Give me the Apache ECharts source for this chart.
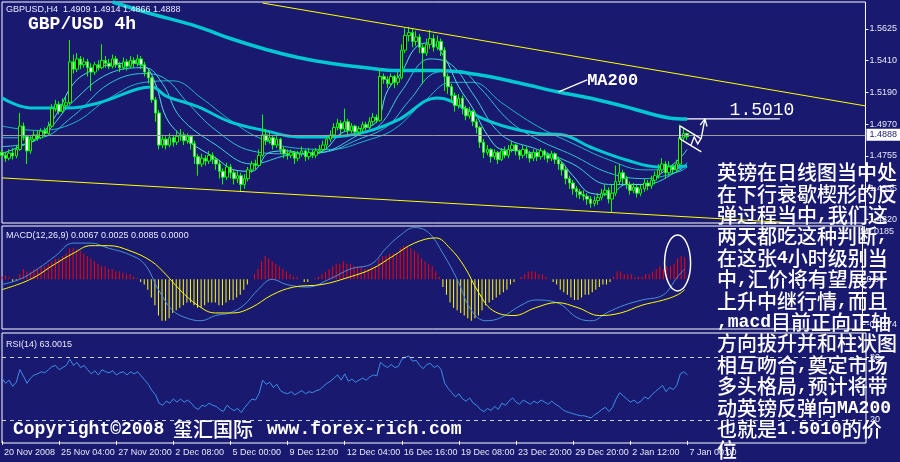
<!DOCTYPE html>
<html><head><meta charset="utf-8">
<script src="https://cdn.jsdelivr.net/npm/echarts@6/dist/echarts.min.js"></script>
<style>html,body{margin:0;padding:0;background:#191970;}#c{width:900px;height:462px;}</style>
</head><body><div id="c"></div>
<script>
// ---------- DATA ----------
const dateLabels = ['20 Nov 2008','25 Nov 04:00','27 Nov 20:00','2 Dec 08:00','5 Dec 00:00','9 Dec 12:00','12 Dec 04:00','16 Dec 16:00','19 Dec 08:00','23 Dec 20:00','29 Dec 20:00','2 Jan 12:00','7 Jan 00:00'];
const barsPerLabel = 16;
const slotCount = 243; // bars + right chart shift
// [open, close, low, high]
const candles = [
[1.4780,1.4760,1.4735,1.4800],[1.4760,1.4740,1.4715,1.4785],[1.4740,1.4775,1.4725,1.4800],[1.4775,1.4755,1.4730,1.4810],[1.4755,1.4800,1.4740,1.4830],
[1.4800,1.4960,1.4790,1.5050],[1.4960,1.4890,1.4860,1.4985],[1.4890,1.4790,1.4700,1.4900],[1.4790,1.4870,1.4770,1.4890],[1.4870,1.4900,1.4850,1.4925],
[1.4900,1.4880,1.4860,1.4930],[1.4880,1.4925,1.4870,1.4945],[1.4925,1.4910,1.4890,1.4950],[1.4910,1.4960,1.4900,1.4990],[1.4960,1.5080,1.4950,1.5110],
[1.5080,1.5110,1.5060,1.5140],[1.5110,1.5060,1.5040,1.5130],[1.5060,1.5100,1.5050,1.5150],[1.5100,1.5120,1.5080,1.5160],[1.5120,1.5400,1.5110,1.5550],
[1.5400,1.5350,1.5320,1.5450],[1.5350,1.5420,1.5330,1.5460],[1.5420,1.5380,1.5350,1.5440],[1.5380,1.5400,1.5360,1.5430],[1.5400,1.5360,1.5300,1.5420],
[1.5360,1.5330,1.5200,1.5390],[1.5330,1.5380,1.5310,1.5400],[1.5380,1.5360,1.5340,1.5410],[1.5360,1.5410,1.5350,1.5520],[1.5410,1.5390,1.5360,1.5440],
[1.5390,1.5370,1.5350,1.5420],[1.5370,1.5420,1.5355,1.5450],[1.5420,1.5380,1.5360,1.5440],[1.5380,1.5360,1.5330,1.5400],[1.5360,1.5400,1.5345,1.5430],
[1.5400,1.5370,1.5340,1.5420],[1.5370,1.5410,1.5355,1.5440],[1.5410,1.5390,1.5360,1.5430],[1.5390,1.5420,1.5370,1.5450],[1.5420,1.5380,1.5350,1.5440],
[1.5380,1.5330,1.5300,1.5400],[1.5330,1.5290,1.5250,1.5350],[1.5290,1.5140,1.5120,1.5300],[1.5140,1.5050,1.4990,1.5160],[1.5050,1.4830,1.4800,1.5070],
[1.4830,1.4870,1.4810,1.4900],[1.4870,1.4830,1.4800,1.4890],[1.4830,1.4880,1.4815,1.4910],[1.4880,1.4850,1.4820,1.4900],[1.4850,1.4890,1.4830,1.4930],
[1.4890,1.4900,1.4860,1.4940],[1.4900,1.4860,1.4830,1.4920],[1.4860,1.4890,1.4840,1.4910],[1.4890,1.4840,1.4800,1.4900],[1.4840,1.4750,1.4700,1.4860],
[1.4750,1.4700,1.4620,1.4770],[1.4700,1.4740,1.4680,1.4770],[1.4740,1.4720,1.4690,1.4760],[1.4720,1.4760,1.4700,1.4790],[1.4760,1.4730,1.4700,1.4780],
[1.4730,1.4700,1.4660,1.4750],[1.4700,1.4650,1.4600,1.4720],[1.4650,1.4610,1.4560,1.4670],[1.4610,1.4680,1.4590,1.4710],[1.4680,1.4640,1.4600,1.4700],
[1.4640,1.4600,1.4560,1.4660],[1.4600,1.4620,1.4570,1.4650],[1.4620,1.4560,1.4510,1.4640],[1.4560,1.4600,1.4530,1.4630],[1.4600,1.4660,1.4580,1.4680],
[1.4660,1.4700,1.4640,1.4720],[1.4700,1.4690,1.4660,1.4730],[1.4690,1.4760,1.4680,1.4800],[1.4760,1.4900,1.4750,1.5040],[1.4900,1.4860,1.4830,1.4940],
[1.4860,1.4880,1.4840,1.4920],[1.4880,1.4830,1.4800,1.4900],[1.4830,1.4870,1.4810,1.4890],[1.4870,1.4800,1.4770,1.4880],[1.4800,1.4770,1.4740,1.4820],
[1.4770,1.4760,1.4730,1.4800],[1.4760,1.4780,1.4740,1.4800],[1.4780,1.4740,1.4700,1.4790],[1.4740,1.4770,1.4720,1.4790],[1.4770,1.4790,1.4750,1.4820],
[1.4790,1.4750,1.4720,1.4800],[1.4750,1.4780,1.4730,1.4810],[1.4780,1.4760,1.4740,1.4800],[1.4760,1.4790,1.4740,1.4810],[1.4790,1.4800,1.4770,1.4830],
[1.4800,1.4830,1.4780,1.4860],[1.4830,1.4870,1.4810,1.4900],[1.4870,1.4900,1.4850,1.4930],[1.4900,1.4950,1.4880,1.4980],[1.4950,1.4980,1.4930,1.5010],
[1.4980,1.4940,1.4900,1.5000],[1.4940,1.4990,1.4920,1.5080],[1.4990,1.4930,1.4900,1.5010],[1.4930,1.4960,1.4910,1.4980],[1.4960,1.4920,1.4900,1.4970],
[1.4920,1.4940,1.4900,1.4960],[1.4940,1.4970,1.4920,1.4990],[1.4970,1.4950,1.4930,1.4990],[1.4950,1.4990,1.4940,1.5020],[1.4990,1.5020,1.4970,1.5050],
[1.5020,1.5000,1.4980,1.5040],[1.5000,1.5300,1.4990,1.5350],[1.5300,1.5280,1.5250,1.5320],[1.5280,1.5250,1.5220,1.5300],[1.5250,1.5300,1.5230,1.5320],
[1.5300,1.5260,1.5220,1.5310],[1.5260,1.5290,1.5240,1.5330],[1.5290,1.5480,1.5280,1.5520],[1.5480,1.5580,1.5460,1.5630],[1.5580,1.5600,1.5540,1.5640],
[1.5600,1.5540,1.5500,1.5630],[1.5540,1.5570,1.5510,1.5610],[1.5570,1.5500,1.5460,1.5590],[1.5500,1.5460,1.5250,1.5520],[1.5460,1.5520,1.5440,1.5560],
[1.5520,1.5560,1.5490,1.5620],[1.5560,1.5500,1.5470,1.5590],[1.5500,1.5540,1.5480,1.5580],[1.5540,1.5480,1.5440,1.5560],[1.5480,1.5300,1.5200,1.5500],
[1.5300,1.5230,1.5180,1.5320],[1.5230,1.5170,1.5120,1.5250],[1.5170,1.5100,1.5060,1.5190],[1.5100,1.5150,1.5080,1.5180],[1.5150,1.5080,1.5040,1.5170],
[1.5080,1.5030,1.5000,1.5100],[1.5030,1.5060,1.5010,1.5090],[1.5060,1.4990,1.4960,1.5070],[1.4990,1.4950,1.4910,1.5010],[1.4950,1.4850,1.4810,1.4960],
[1.4850,1.4780,1.4740,1.4870],[1.4780,1.4800,1.4760,1.4830],[1.4800,1.4750,1.4710,1.4810],[1.4750,1.4780,1.4730,1.4800],[1.4780,1.4730,1.4700,1.4790],
[1.4730,1.4790,1.4720,1.4810],[1.4790,1.4760,1.4740,1.4820],[1.4760,1.4800,1.4740,1.4830],[1.4800,1.4830,1.4780,1.4860],[1.4830,1.4790,1.4760,1.4840],
[1.4790,1.4760,1.4730,1.4800],[1.4760,1.4800,1.4740,1.4830],[1.4800,1.4770,1.4740,1.4820],[1.4770,1.4740,1.4710,1.4790],[1.4740,1.4780,1.4720,1.4800],
[1.4780,1.4750,1.4720,1.4800],[1.4750,1.4790,1.4730,1.4810],[1.4790,1.4760,1.4730,1.4800],[1.4760,1.4740,1.4710,1.4780],[1.4740,1.4770,1.4720,1.4790],
[1.4770,1.4730,1.4700,1.4780],[1.4730,1.4700,1.4660,1.4750],[1.4700,1.4660,1.4620,1.4720],[1.4660,1.4600,1.4560,1.4680],[1.4600,1.4570,1.4530,1.4620],
[1.4570,1.4530,1.4490,1.4590],[1.4530,1.4510,1.4470,1.4550],[1.4510,1.4490,1.4460,1.4530],[1.4490,1.4480,1.4450,1.4520],[1.4480,1.4460,1.4420,1.4500],
[1.4460,1.4430,1.4400,1.4480],[1.4430,1.4450,1.4410,1.4480],[1.4450,1.4470,1.4420,1.4500],[1.4470,1.4500,1.4450,1.4530],[1.4500,1.4520,1.4480,1.4560],
[1.4520,1.4460,1.4430,1.4540],[1.4460,1.4500,1.4370,1.4560],[1.4500,1.4580,1.4480,1.4690],[1.4580,1.4640,1.4560,1.4700],[1.4640,1.4600,1.4560,1.4660],
[1.4600,1.4560,1.4530,1.4620],[1.4560,1.4520,1.4490,1.4580],[1.4520,1.4540,1.4500,1.4570],[1.4540,1.4500,1.4470,1.4560],[1.4500,1.4530,1.4480,1.4560],
[1.4530,1.4570,1.4510,1.4600],[1.4570,1.4550,1.4520,1.4590],[1.4550,1.4590,1.4530,1.4620],[1.4590,1.4620,1.4560,1.4650],[1.4620,1.4660,1.4600,1.4700],
[1.4660,1.4700,1.4640,1.4740],[1.4700,1.4640,1.4600,1.4720],[1.4640,1.4680,1.4620,1.4720],[1.4680,1.4660,1.4630,1.4700],[1.4660,1.4700,1.4640,1.4730],
[1.4700,1.4880,1.4690,1.4970],[1.4880,1.4909,1.4860,1.4950],[1.4909,1.4888,1.4866,1.4914]
];
const lastPrice = 1.4888;
// moving averages, read at sample bars: [bar index, price]
const ma200 = [[31,1.5810],[41,1.5735],[55,1.5640],[64,1.5560],[74,1.5485],[83,1.5430],[92,1.5390],[102,1.5360],[111,1.5340],[122,1.5340],[134,1.5310],[145,1.5255],[156,1.5193],[165,1.5151],[175,1.5091],[187,1.5016],[192,1.5009]];
const maSlow = [[0,1.5153],[8,1.5084],[18,1.5084],[27,1.5118],[38,1.5214],[42,1.5228],[46,1.5166],[55,1.5091],[64,1.4988],[74,1.4927],[83,1.4886],[92,1.4886],[102,1.4920],[111,1.5002],[122,1.5153],[126,1.5130],[134,1.5020],[142,1.4950],[150,1.4910],[157,1.4900],[165,1.4815],[175,1.4728],[184,1.4680],[192,1.4687]];
const ribbon1 = [[0,1.4770],[5,1.4820],[10,1.4880],[15,1.5030],[20,1.5250],[25,1.5340],[30,1.5380],[35,1.5390],[40,1.5370],[43,1.5250],[46,1.5020],[50,1.4900],[55,1.4810],[60,1.4740],[65,1.4660],[70,1.4650],[75,1.4780],[80,1.4790],[85,1.4770],[90,1.4790],[95,1.4910],[100,1.4940],[105,1.4990],[108,1.5200],[112,1.5330],[116,1.5500],[120,1.5530],[124,1.5430],[128,1.5230],[132,1.5080],[136,1.4900],[140,1.4800],[145,1.4790],[150,1.4770],[155,1.4750],[160,1.4620],[165,1.4500],[170,1.4490],[175,1.4560],[180,1.4560],[185,1.4640],[190,1.4740],[192,1.4800]];
const ribbon2 = [[0,1.4820],[10,1.4870],[20,1.5130],[30,1.5320],[40,1.5360],[45,1.5250],[50,1.5020],[60,1.4830],[70,1.4700],[80,1.4760],[90,1.4780],[100,1.4900],[106,1.4970],[112,1.5200],[120,1.5420],[126,1.5380],[132,1.5180],[140,1.4900],[150,1.4800],[160,1.4700],[170,1.4560],[180,1.4560],[190,1.4660],[192,1.4710]];
const ribbon3 = [[0,1.4880],[10,1.4880],[20,1.5030],[30,1.5250],[40,1.5320],[46,1.5280],[52,1.5120],[60,1.4930],[70,1.4790],[80,1.4770],[90,1.4780],[100,1.4870],[108,1.4960],[114,1.5130],[122,1.5330],[128,1.5340],[134,1.5220],[142,1.5000],[150,1.4870],[160,1.4760],[170,1.4640],[180,1.4600],[190,1.4650],[192,1.4680]];
const ribbon4 = [[0,1.4960],[10,1.4930],[20,1.4980],[30,1.5150],[40,1.5260],[48,1.5270],[56,1.5150],[64,1.5000],[72,1.4880],[82,1.4810],[92,1.4800],[102,1.4860],[110,1.4940],[118,1.5120],[126,1.5260],[132,1.5260],[140,1.5120],[150,1.4960],[160,1.4840],[170,1.4730],[180,1.4660],[190,1.4670],[192,1.4690]];
const macdHist = [
0.0010,0.0015,0.0010,-0.0010,-0.0005,0.0020,0.0040,0.0030,0.0030,0.0040,
0.0040,0.0050,0.0050,0.0060,0.0070,0.0080,0.0080,0.0090,0.0100,0.0120,
0.0120,0.0115,0.0110,0.0100,0.0090,0.0080,0.0070,0.0060,0.0050,0.0050,
0.0040,0.0040,0.0030,0.0030,0.0025,0.0020,0.0020,0.0010,0.0005,-0.0010,
-0.0020,-0.0040,-0.0070,-0.0100,-0.0140,-0.0160,-0.0160,-0.0150,-0.0130,-0.0120,
-0.0110,-0.0100,-0.0090,-0.0090,-0.0100,-0.0110,-0.0110,-0.0100,-0.0090,-0.0090,
-0.0090,-0.0100,-0.0100,-0.0090,-0.0080,-0.0080,-0.0070,-0.0060,-0.0040,-0.0020,
0.0000,0.0020,0.0040,0.0070,0.0090,0.0080,0.0070,0.0060,0.0050,0.0040,
0.0030,0.0020,0.0010,0.0010,0.0000,-0.0010,-0.0010,0.0000,0.0005,0.0010,
0.0020,0.0030,0.0040,0.0050,0.0060,0.0060,0.0070,0.0060,0.0060,0.0050,
0.0050,0.0050,0.0040,0.0040,0.0050,0.0050,0.0080,0.0090,0.0090,0.0100,
0.0100,0.0100,0.0120,0.0130,0.0130,0.0120,0.0110,0.0100,0.0080,0.0070,
0.0060,0.0050,0.0030,0.0010,-0.0030,-0.0060,-0.0090,-0.0110,-0.0120,-0.0130,
-0.0140,-0.0150,-0.0160,-0.0150,-0.0140,-0.0120,-0.0100,-0.0090,-0.0080,-0.0070,
-0.0060,-0.0050,-0.0040,-0.0020,-0.0010,0.0000,0.0010,0.0020,0.0030,0.0030,
0.0030,0.0020,0.0020,0.0010,0.0000,-0.0010,-0.0020,-0.0040,-0.0050,-0.0060,
-0.0070,-0.0080,-0.0080,-0.0070,-0.0060,-0.0060,-0.0050,-0.0040,-0.0030,-0.0020,
-0.0020,-0.0010,0.0010,0.0030,0.0030,0.0020,0.0020,0.0020,0.0010,0.0010,
0.0010,0.0020,0.0020,0.0030,0.0040,0.0050,0.0040,0.0050,0.0050,0.0060,
0.0080,0.0090,0.0085];
const macdMain = [[0,-0.002],[5,0.000],[10,0.004],[15,0.009],[20,0.014],[25,0.014],[30,0.012],[35,0.010],[40,0.006],[44,-0.004],[48,-0.012],[52,-0.015],[56,-0.016],[60,-0.014],[64,-0.013],[68,-0.010],[72,-0.004],[76,0.000],[80,-0.002],[86,-0.003],[92,0.000],[98,0.004],[104,0.006],[108,0.012],[112,0.017],[116,0.020],[120,0.018],[124,0.010],[128,0.000],[132,-0.012],[136,-0.016],[140,-0.015],[146,-0.010],[150,-0.008],[156,-0.009],[162,-0.015],[166,-0.016],[170,-0.013],[175,-0.010],[180,-0.008],[186,-0.006],[190,0.001],[192,0.004]];
const macdSignal = [[0,-0.004],[8,0.000],[15,0.006],[20,0.010],[25,0.013],[30,0.013],[36,0.011],[42,0.007],[46,0.002],[50,-0.004],[55,-0.010],[60,-0.013],[65,-0.013],[70,-0.011],[76,-0.006],[82,-0.003],[90,-0.002],[98,0.001],[104,0.004],[110,0.009],[116,0.014],[122,0.016],[126,0.012],[130,0.005],[134,-0.005],[138,-0.012],[144,-0.014],[150,-0.011],[156,-0.009],[162,-0.011],[168,-0.014],[174,-0.013],[180,-0.010],[186,-0.008],[190,-0.006],[192,-0.004]];
const rsi = [
60,55,58,52,56,68,62,55,60,63,
64,66,65,68,71,72,68,70,72,78,
72,75,70,72,68,64,67,63,68,66,
65,67,63,65,66,63,66,64,66,62,
58,54,48,44,36,34,38,36,40,37,
40,37,39,36,32,30,34,33,36,34,
33,30,28,34,31,29,31,27,32,36,
40,39,45,58,54,56,51,54,48,46,
45,47,44,46,48,45,47,46,48,49,
52,55,57,60,63,58,64,57,59,56,
58,60,58,61,63,62,75,72,70,73,
70,71,78,80,81,76,77,72,69,73,
74,70,72,68,55,50,46,42,45,40,
38,41,36,34,30,28,31,29,33,30,
36,34,38,41,37,35,39,37,35,38,
36,39,37,35,38,35,33,30,28,27,
26,25,24,24,23,22,25,27,30,32,
28,32,40,46,43,40,37,39,36,38,
42,40,44,47,50,53,47,51,49,53,
64,66,63];
const priceTicks = [1.5625,1.5410,1.5190,1.4970,1.4755,1.4535,1.4320];
const macdTicks = [0.0185,0,-0.0174];
const rsiLevels = [80,20];
const trendTop = [[73,1.5803],[242,1.5098]];
const trendBottom = [[0,1.4605],[221,1.4298]];
const targetPrice = 1.5010;

// ---------- CHART ----------
const BG = '#191970';
const cats = [];
for (let i = 0; i < slotCount; i++) cats.push(String(i));
const isLabel = (idx) => idx % barsPerLabel === 0 && idx / barsPerLabel < dateLabels.length;
const smallFont = '"Liberation Sans", Arial, sans-serif';
const mono = '"Liberation Mono", "DejaVu Sans Mono", monospace';

const chart = echarts.init(document.getElementById('c'), null, {renderer: 'canvas'});
const xBase = {type: 'category', data: cats, boundaryGap: false, axisLine: {show: false}, axisTick: {show: false}, axisLabel: {show: false}, splitLine: {show: false}};
const yBase = {type: 'value', position: 'right', scale: true, splitLine: {show: false}, axisLine: {show: false},
  axisTick: {show: true, inside: false, length: 3, lineStyle: {color: '#fff'}},
  axisLabel: {color: '#e6e6f5', fontSize: 9, fontFamily: smallFont, margin: 4, align: 'left'}};

const option = {
  backgroundColor: BG,
  animation: false,
  grid: [
    {left: 2, top: 2, width: 864, height: 221, show: true, borderColor: '#fff', borderWidth: 1, backgroundColor: BG},
    {left: 2, top: 226, width: 864, height: 103, show: true, borderColor: '#fff', borderWidth: 1, backgroundColor: BG},
    {left: 2, top: 333, width: 864, height: 110, show: true, borderColor: '#fff', borderWidth: 1, backgroundColor: BG}
  ],
  xAxis: [
    Object.assign({}, xBase, {gridIndex: 0}),
    Object.assign({}, xBase, {gridIndex: 1}),
    Object.assign({}, xBase, {gridIndex: 2, axisTick: {show: true, length: 4, interval: (i) => isLabel(i), lineStyle: {color: '#fff'}},
      axisLabel: {show: true, interval: (i) => isLabel(i), formatter: (v, i) => isLabel(i) ? dateLabels[i / barsPerLabel] : '',
        color: '#e6e6f5', fontSize: 9, fontFamily: smallFont, align: 'left', margin: 5, padding: [0, 0, 0, 2]}})
  ],
  yAxis: [
    Object.assign({}, yBase, {gridIndex: 0, min: 1.4296, max: 1.5810,
      axisTick: Object.assign({}, yBase.axisTick, {customValues: priceTicks}),
      axisLabel: Object.assign({}, yBase.axisLabel, {customValues: priceTicks, formatter: (v) => v.toFixed(4)})}),
    Object.assign({}, yBase, {gridIndex: 1, min: -0.0192, max: 0.0206,
      axisTick: Object.assign({}, yBase.axisTick, {customValues: macdTicks}),
      axisLabel: Object.assign({}, yBase.axisLabel, {customValues: macdTicks, formatter: (v) => v === 0 ? '0.00' : v.toFixed(4)})}),
    Object.assign({}, yBase, {gridIndex: 2, min: -2, max: 103,
      axisTick: Object.assign({}, yBase.axisTick, {customValues: rsiLevels}),
      axisLabel: Object.assign({}, yBase.axisLabel, {customValues: rsiLevels, formatter: (v) => String(v)})})
  ],
  series: [
    {type: 'line', name: 'ribbon4', xAxisIndex: 0, yAxisIndex: 0, data: ribbon4, smooth: 0.4, symbol: 'none', lineStyle: {color: '#1fb5c8', width: 1}, z: 2},
    {type: 'line', name: 'ribbon3', xAxisIndex: 0, yAxisIndex: 0, data: ribbon3, smooth: 0.4, symbol: 'none', lineStyle: {color: '#2cc3d3', width: 1}, z: 2},
    {type: 'line', name: 'ribbon2', xAxisIndex: 0, yAxisIndex: 0, data: ribbon2, smooth: 0.4, symbol: 'none', lineStyle: {color: '#3fd0dc', width: 1}, z: 2},
    {type: 'line', name: 'ribbon1', xAxisIndex: 0, yAxisIndex: 0, data: ribbon1, smooth: 0.4, symbol: 'none', lineStyle: {color: '#5fe0e6', width: 1}, z: 2},
    {type: 'line', name: 'maSlow', xAxisIndex: 0, yAxisIndex: 0, data: maSlow, smooth: 0.4, symbol: 'none', lineStyle: {color: '#00c8d2', width: 3}, z: 3},
    {type: 'line', name: 'MA200', xAxisIndex: 0, yAxisIndex: 0, data: ma200, smooth: 0.4, symbol: 'none', lineStyle: {color: '#00c8d2', width: 3.5}, z: 3},
    {type: 'candlestick', name: 'GBPUSD', xAxisIndex: 0, yAxisIndex: 0, data: candles, barWidth: 3, z: 4,
      itemStyle: {color: '#000000', color0: '#ffffff', borderColor: '#00ff00', borderColor0: '#00ff00', borderWidth: 1},
      markLine: {silent: true, symbol: 'none', animation: false,
        data: [
          {yAxis: lastPrice, lineStyle: {color: '#a0a0a0', width: 1, type: 'solid'},
            label: {show: true, position: 'end', formatter: lastPrice.toFixed(4), backgroundColor: '#ffffff', color: '#191970', fontSize: 9, fontFamily: smallFont, padding: [2, 3, 1, 3], distance: 1}},
          [{coord: trendTop[0], lineStyle: {color: '#ffff00', width: 1, type: 'solid'}, label: {show: false}}, {coord: trendTop[1]}],
          [{coord: trendBottom[0], lineStyle: {color: '#ffff00', width: 1, type: 'solid'}, label: {show: false}}, {coord: trendBottom[1]}]
        ]}},
    {type: 'bar', name: 'MACD hist', xAxisIndex: 1, yAxisIndex: 1, data: macdHist, barWidth: 1,
      itemStyle: {color: (p) => p.value >= 0 ? '#ff0000' : '#ffff00'}},
    {type: 'line', name: 'MACD', xAxisIndex: 1, yAxisIndex: 1, data: macdMain, smooth: 0.4, symbol: 'none', lineStyle: {color: '#4a8fd6', width: 1}},
    {type: 'line', name: 'Signal', xAxisIndex: 1, yAxisIndex: 1, data: macdSignal, smooth: 0.4, symbol: 'none', lineStyle: {color: '#ffff00', width: 1}},
    {type: 'line', name: 'RSI', xAxisIndex: 2, yAxisIndex: 2, data: rsi, symbol: 'none', lineStyle: {color: '#3d8ee6', width: 1},
      markLine: {silent: true, symbol: 'none', label: {show: false},
        data: rsiLevels.map((v) => ({yAxis: v})), lineStyle: {color: '#d0d0d0', type: [4, 4], width: 1}}}
  ]
};
chart.setOption(option);

// ---------- ANNOTATIONS (anchored to data coordinates) ----------
const P = (i, v) => chart.convertToPixel({xAxisIndex: 0, yAxisIndex: 0}, [i, v]);
const M = (i, v) => chart.convertToPixel({xAxisIndex: 1, yAxisIndex: 1}, [i, v]);
const white = {stroke: '#ffffff', lineWidth: 1.3, fill: null};
const line = (a, b) => ({type: 'line', shape: {x1: a[0], y1: a[1], x2: b[0], y2: b[1]}, style: white, z: 100});
const maPtr0 = P(156, 1.5194), maPtr1 = P(164, 1.5276);
const tgt0 = P(192, targetPrice), tgt1 = P(218, targetPrice);
const tgtText = P(212.8, 1.5071);
const arrowA = P(195.5, 1.4879), arrowB = P(197.2, targetPrice);
const f1a = P(189.6, 1.4961), f1b = P(195.5, 1.4872);
const f2a = P(189.9, 1.4872), f2b = P(195.5, 1.4783);
const n1 = P(193, 1.4824), n2 = P(193.6, 1.4886), n3 = P(194.7, 1.4838), n4 = P(195.5, 1.4879);
const ell = M(190.2, 0.0063);
const maTextPos = P(164.2, 1.5273);
const ang = Math.atan2(arrowB[1] - arrowA[1], arrowB[0] - arrowA[0]);
const head = (d) => [arrowB[0] - 8 * Math.cos(ang + d), arrowB[1] - 8 * Math.sin(ang + d)];

// commentary; {l|...} marks half-width Latin runs
const notes = ['英镑在日线图当中处','在下行衰歇楔形的反','弹过程当中{l|,}我们这','两天都吃这种判断{l|,}','在这张{l|4}小时级别当','中{l|,}汇价将有望展开','上升中继行情{l|,}而且','{l|,macd}目前正向正轴','方向拔升并和柱状图','相互吻合{l|,}奠定市场','多头格局{l|,}预计将带','动英镑反弹向{l|MA200}','也就是{l|1.5010}的价','位'];
const cjkFont = '500 20px "Noto Sans CJK SC", sans-serif';

chart.setOption({graphic: [
  {type: 'text', left: 6, top: 5, z: 100, style: {text: 'GBPUSD,H4  1.4909 1.4914 1.4866 1.4888', fill: '#e8e8ff', font: '9px ' + smallFont}},
  {type: 'text', left: 28, top: 15, z: 100, style: {text: 'GBP/USD 4h', fill: '#ffffff', font: 'bold 18px ' + mono}},
  {type: 'text', left: 6, top: 231, z: 100, style: {text: 'MACD(12,26,9) 0.0067 0.0025 0.0085 0.0000', fill: '#e8e8ff', font: '9px ' + smallFont}},
  {type: 'text', left: 6, top: 340, z: 100, style: {text: 'RSI(14) 63.0015', fill: '#e8e8ff', font: '9px ' + smallFont}},
  line(maPtr0, maPtr1),
  {type: 'text', x: maTextPos[0], y: maTextPos[1], z: 100, style: {text: 'MA200', fill: '#ffffff', font: 'bold 17px ' + mono, verticalAlign: 'middle', align: 'left'}},
  line(tgt0, tgt1),
  {type: 'text', x: tgtText[0], y: tgtText[1], z: 100, style: {text: '1.5010', fill: '#ffffff', font: '18px ' + mono, verticalAlign: 'middle', align: 'center'}},
  line(f1a, f1b), line(f2a, f2b), line(f1a, f2a),
  {type: 'polyline', shape: {points: [n1, n2, n3, n4]}, style: white, z: 100},
  line(arrowA, arrowB), line(arrowB, head(0.45)), line(arrowB, head(-0.45)),
  {type: 'ellipse', shape: {cx: ell[0], cy: ell[1], rx: 13, ry: 28}, style: {stroke: '#ffffff', lineWidth: 1.5, fill: null}, z: 100},
  {type: 'text', left: 717, top: 162, z: 120, style: {text: notes.join('\n'), fill: '#ffffff', font: cjkFont, lineHeight: 21.4,
    rich: {l: {font: 'bold 18px ' + mono, fill: '#ffffff', lineHeight: 21.4}}}},
  {type: 'text', left: 13, top: 420, z: 120, style: {text: 'Copyright©2008', fill: '#ffffff', font: 'bold 18px ' + mono}},
  {type: 'text', left: 173, top: 419, z: 120, style: {text: '玺汇国际', fill: '#ffffff', font: cjkFont}},
  {type: 'text', left: 267, top: 420, z: 120, style: {text: 'www.forex-rich.com', fill: '#ffffff', font: 'bold 18px ' + mono}}
]});
</script></body></html>
